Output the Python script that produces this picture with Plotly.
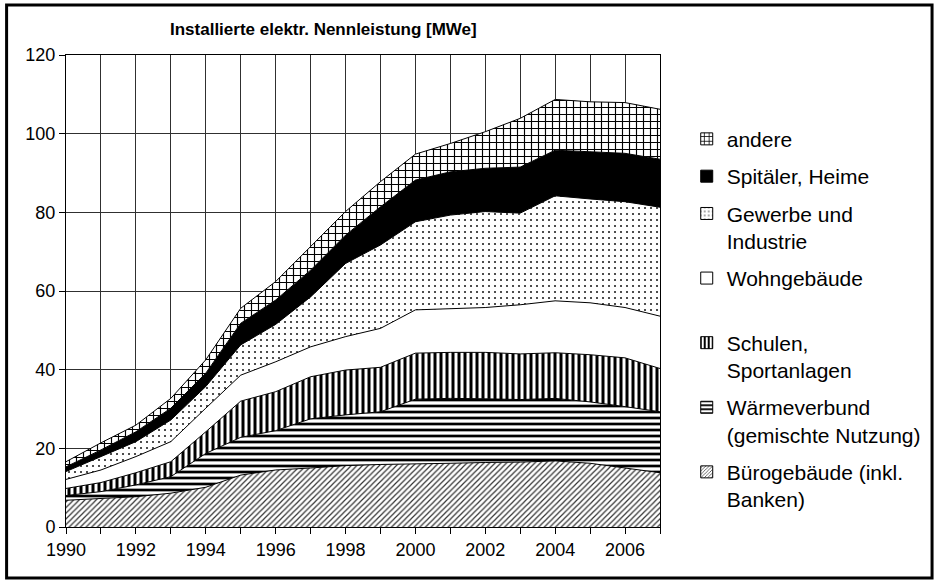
import plotly.graph_objects as go

years = list(range(1990, 2008))
year_labels = [str(y) if y % 2 == 0 else "" for y in years]

# installierte Leistung je Kategorie [MWe], aus dem Bild geschaetzt
buero = [6.8, 7.2, 7.7, 8.6, 10.1, 13.2, 14.5, 15.0, 15.6, 15.9, 16.0, 16.2, 16.4, 16.5, 16.8, 16.2, 15.0, 13.8]
waermeverbund = [1.2, 1.8, 3.0, 4.2, 8.6, 9.6, 10.0, 12.5, 12.9, 13.4, 16.5, 16.5, 16.2, 15.9, 15.9, 15.6, 15.6, 15.5]
schulen = [1.8, 2.3, 3.1, 3.8, 5.5, 9.2, 9.9, 10.7, 11.4, 11.3, 11.7, 11.7, 11.8, 11.6, 11.6, 12.0, 12.4, 11.0]
wohngebaeude = [2.3, 3.2, 4.1, 5.1, 6.0, 6.6, 7.6, 7.6, 8.5, 9.9, 11.0, 11.1, 11.4, 12.5, 13.2, 13.2, 12.8, 13.3]
gewerbe = [2.0, 3.4, 3.8, 5.5, 5.5, 7.7, 9.5, 12.7, 18.6, 21.2, 22.4, 23.8, 24.4, 23.3, 26.7, 26.4, 26.9, 27.7]
spitaeler = [1.2, 1.7, 2.5, 3.0, 3.4, 5.5, 6.2, 6.8, 7.2, 9.7, 10.6, 11.0, 11.0, 11.7, 11.6, 12.0, 12.3, 12.2]
andere = [1.3, 1.8, 1.7, 2.5, 3.4, 3.8, 4.7, 6.0, 6.0, 6.4, 6.6, 7.2, 9.3, 12.4, 12.9, 12.7, 12.9, 12.7]

names = [
    "Bürogebäude (inkl.<br>Banken)",
    "Wärmeverbund<br>(gemischte Nutzung)",
    "Schulen,<br>Sportanlagen",
    "Wohngebäude<br> ",
    "Gewerbe und<br>Industrie",
    "Spitäler, Heime",
    "andere",
]
series = [buero, waermeverbund, schulen, wohngebaeude, gewerbe, spitaeler, andere]

# fill style per layer: (pattern shape, size, solidity, fg colour, solid fill)
styles = [
    ("/", 4, 0.3, "#333333", None),
    ("-", 6, 0.45, "black", None),
    ("|", 6, 0.5, "black", None),
    ("", 6, 0.0, "black", "white"),
    (".", 6, 0.1, "#222222", None),
    ("", 6, 0.0, "black", "black"),
    ("+", 7, 0.3, "black", None),
]


def fill_kw(style):
    shape, size, solid, fg, col = style
    if shape:
        return dict(color="white", pattern=dict(shape=shape, size=size, solidity=solid,
                                                fgcolor=fg, bgcolor="white", fillmode="replace"))
    return dict(color=col)


fig = go.Figure()
# stacked areas (bottom first)
for name, vals, st in zip(names, series, styles):
    f = fill_kw(st)
    kw = {"fillcolor": f["color"]}
    if "pattern" in f:
        kw["fillpattern"] = f["pattern"]
    fig.add_trace(go.Scatter(
        x=years, y=vals, name=name, mode="lines",
        stackgroup="one", showlegend=False,
        line=dict(color="black", width=1),
        **kw))

# legend entries with square symbols, top entry first
for name, st in reversed(list(zip(names, styles))):
    f = fill_kw(st)
    mk = dict(color=f["color"], line=dict(color="black", width=1))
    if "pattern" in f:
        p = dict(f["pattern"])
        p["size"] = max(3, p["size"] - 1)
        mk["pattern"] = p
    fig.add_trace(go.Bar(x=[None], y=[None], name=name, legendgroup=name,
                         marker=mk, showlegend=True))

fig.update_layout(
    width=938, height=580,
    margin=dict(l=66, r=274, t=55, b=53),
    paper_bgcolor="white", plot_bgcolor="white",
    font=dict(family="Liberation Sans, Arial, sans-serif", size=18, color="black"),
    showlegend=True,
    legend=dict(
        x=1.045, y=0.865, xanchor="left", yanchor="top",
        traceorder="grouped", tracegroupgap=7,
        valign="top", itemwidth=30,
        font=dict(size=21, color="black"),
        bgcolor="rgba(0,0,0,0)",
    ),
)

fig.update_xaxes(
    range=[1990, 2007], tickvals=years, ticktext=year_labels,
    showgrid=True, gridcolor="#303030", gridwidth=1,
    showline=True, linecolor="black", linewidth=1, mirror=True,
    ticks="outside", ticklen=6, tickcolor="black",
    zeroline=False,
)
fig.update_yaxes(
    range=[0, 120], dtick=20,
    showgrid=True, gridcolor="#303030", gridwidth=1,
    showline=True, linecolor="black", linewidth=1, mirror=True,
    ticks="outside", ticklen=6, tickcolor="black",
    zeroline=False,
)

fig.add_annotation(
    text="<b>Installierte elektr. Nennleistung [MWe]</b>",
    xref="paper", yref="paper", x=0.433, y=1.053, yanchor="middle",
    showarrow=False, font=dict(size=17),
)

# outer frame
fig.add_shape(type="rect", xref="paper", yref="paper",
              x0=-0.1, x1=1.458, y0=-0.108, y1=1.106,
              line=dict(color="black", width=3))

fig.write_html("out.html", config={"displayModeBar": False},
               post_script="document.body.style.margin='0';")
